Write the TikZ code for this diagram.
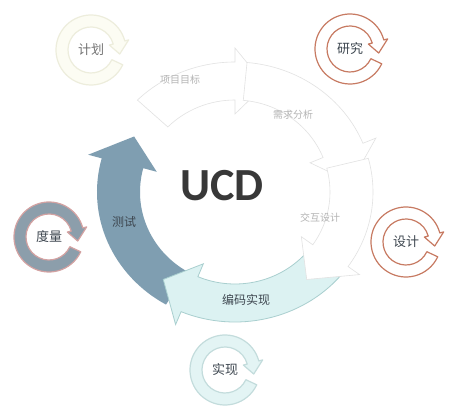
\documentclass[tikz,border=0pt]{standalone}
\usepackage{fontspec}
\setmainfont{Noto Sans CJK SC}
\newfontfamily\ucdfont{Carlito}
\definecolor{steelarc}{HTML}{7F9EB1}
\definecolor{cyanarc}{HTML}{DCF2F2}
\definecolor{cyanedge}{HTML}{A9CFCF}
\definecolor{faintedge}{HTML}{E2E2E2}
\definecolor{faintlbl}{HTML}{B4B4B4}
\definecolor{brownring}{HTML}{C77A62}
\definecolor{measurefill}{HTML}{8C9EAB}
\definecolor{measureedge}{HTML}{D3A2A2}
\definecolor{planfill}{HTML}{FCFCF3}
\definecolor{planedge}{HTML}{EDEDDC}
\definecolor{implfill}{HTML}{E3F4F4}
\definecolor{impledge}{HTML}{C3DCDC}
\definecolor{txtdark}{HTML}{3E4750}
\newcommand\ringarr[3]{%
  \path[draw=#3, fill=#2, line width=1.2pt, line join=round, shift={(#1.center)}]
    (15:35pt) arc[start angle=15, end angle=335, radius=35pt]
    -- (335:23pt) arc[start angle=335, end angle=15, radius=23pt]
    -- (15:19pt) -- (-8:29pt) -- (15:39pt) -- cycle;}
\newcommand\cycarr[4]{%
  \path[#4, shift={(O)}]
    (#1:138pt and 130pt) arc[start angle=#1, end angle=#2, x radius=138pt, y radius=130pt]
    -- (#2:152pt and 144pt) -- (#3:116.5pt and 111pt) -- (#2:81pt and 78pt)
    -- (#2:95pt and 92pt) arc[start angle=#2, end angle=#1, x radius=95pt, y radius=92pt]
    -- cycle;}
\tikzset{
  faintarc/.style={draw=faintedge, fill=white, line width=0.6pt},
  testarc/.style={fill=steelarc},
  codearc/.style={draw=cyanedge, fill=cyanarc, line width=0.8pt},
  faintlabel/.style={text=faintlbl, font=\fontsize{10}{12}\selectfont},
  arclabel/.style={text=txtdark, font=\fontsize{12}{14}\selectfont},
  ringlabel/.style={text=txtdark, font=\fontsize{13}{15}\selectfont},
}
\begin{document}
\begin{tikzpicture}[x=1pt,y=1pt]
\useasboundingbox[fill=white] (0,0) rectangle (450,411);
\coordinate (O) at (235,219);
% main cycle
\cycarr{135}{90}{75}{faintarc}
\cycarr{85}{22}{5}{faintarc}
\cycarr{240}{165}{150}{testarc}
\cycarr{-40}{-113}{-128}{codearc}
\cycarr{15}{-35}{-52}{faintarc}
\node[faintlabel] (l1) at (180,331) {项目目标};
\node[faintlabel] (l2) at (293,296) {需求分析};
\node[faintlabel] (l3) at (320,193) {交互设计};
\node[arclabel] (l4) at (246,111) {编码实现};
\node[arclabel] (l5) at (124,189) {测试};
\node[text=black!78, font=\ucdfont\bfseries\fontsize{46}{50}\selectfont] (ucd) at (222,225) {UCD};
% outer rings
\coordinate (cplan) at (91,361);
\coordinate (cres) at (350,362);
\coordinate (cdes) at (406,169);
\coordinate (cmea) at (49,174);
\coordinate (cimp) at (225,41);
\ringarr{cplan}{planfill}{planedge}
\ringarr{cres}{white}{brownring}
\ringarr{cdes}{white}{brownring}
\ringarr{cmea}{measurefill}{measureedge}
\ringarr{cimp}{implfill}{impledge}
\node[ringlabel, text=black!55] (plan) at (cplan) {计划};
\node[ringlabel] (res) at (cres) {研究};
\node[ringlabel] (des) at (cdes) {设计};
\node[ringlabel] (mea) at (cmea) {度量};
\node[ringlabel] (imp) at (cimp) {实现};
\end{tikzpicture}
\end{document}
